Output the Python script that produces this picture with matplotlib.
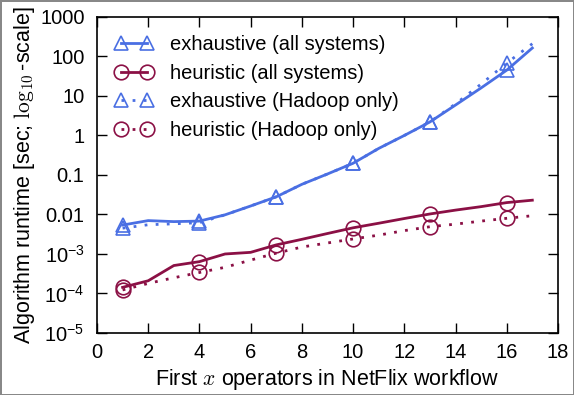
import numpy as np
import matplotlib.pyplot as plt

plt.rcParams['font.family'] = ['Liberation Sans', 'DejaVu Sans']
plt.rcParams['mathtext.fontset'] = 'custom'
plt.rcParams['mathtext.rm'] = 'Liberation Sans'
plt.rcParams['mathtext.it'] = 'Liberation Sans:italic'

x = np.arange(1, 18)
marker_x = [1, 4, 7, 10, 13, 16]

exh_all = [0.0054, 0.0070, 0.0066, 0.0068, 0.0098, 0.0164, 0.028, 0.058, 0.106,
           0.198, 0.47, 1.0, 2.2, 5.9, 16.0, 45.0, 164.0]
heu_all = [1.43e-4, 2.1e-4, 5.1e-4, 6.4e-4, 1.0e-3, 1.1e-3, 1.7e-3, 2.35e-3, 3.3e-3,
           4.6e-3, 6.0e-3, 7.9e-3, 1.03e-2, 1.29e-2, 1.58e-2, 2.0e-2, 2.3e-2]
exh_hadoop = [0.0045, 0.0055, 0.0058, 0.0062, 0.0098, 0.0164, 0.028, 0.058, 0.106,
              0.198, 0.47, 1.0, 2.2, 6.3, 20.0, 68.0, 210.0]
heu_hadoop = [1.23e-4, 1.8e-4, 2.5e-4, 3.4e-4, 4.6e-4, 7.0e-4, 1.05e-3, 1.5e-3, 1.9e-3,
              2.4e-3, 3.0e-3, 3.9e-3, 4.9e-3, 5.7e-3, 6.8e-3, 8.0e-3, 9.3e-3]

ytick_vals = [1e-5, 1e-4, 1e-3, 0.01, 0.1, 1, 10, 100, 1000]
ytick_text = [r'$10^{-5}$', r'$10^{-4}$', r'$10^{-3}$', '0.01', '0.1', '1', '10', '100', '1000']

blue = '#4a6fe3'
red = '#8b1045'

def markers_of(values):
    return [values[i - 1] for i in marker_x]

fig = plt.figure(figsize=(5.74, 3.95), dpi=100)
fig.patch.set_edgecolor('#888888')
fig.patch.set_linewidth(2)
ax = fig.add_axes([0.169, 0.157, 0.803, 0.8])

series = [
    (exh_all, blue, '-', '^', 'exhaustive (all systems)'),
    (heu_all, red, '-', 'o', 'heuristic (all systems)'),
    (exh_hadoop, blue, (0, (1, 3)), '^', 'exhaustive (Hadoop only)'),
    (heu_hadoop, red, (0, (1, 3)), 'o', 'heuristic (Hadoop only)'),
]

handles = []
for vals, col, ls, mk, lab in series:
    ax.plot(x, vals, color=col, linestyle=ls, linewidth=2)
    ax.plot(marker_x, markers_of(vals), linestyle='none', marker=mk, markersize=10.5,
            markerfacecolor='none', markeredgecolor=col, markeredgewidth=1.2)
    h, = ax.plot([], [], color=col, linestyle=ls, linewidth=2, marker=mk, markersize=10.5,
                 markerfacecolor='none', markeredgecolor=col, markeredgewidth=1.2, label=lab)
    handles.append(h)

ax.set_yscale('log')
ax.set_xlim(0, 18)
ax.set_ylim(1e-5, 1000)
ax.set_xticks(range(0, 19, 2))
ax.set_yticks(ytick_vals)
ax.set_yticklabels(ytick_text)
ax.tick_params(which='both', direction='in', top=True, right=True, labelsize=14.5)
ax.tick_params(which='major', length=7, width=1)
ax.tick_params(which='minor', length=4, width=1)
ax.tick_params(axis='y', pad=9)
ax.tick_params(axis='x', pad=7)
for s in ax.spines.values():
    s.set_linewidth(1.2)

ax.set_xlabel('First $x$ operators in NetFlix workflow', fontsize=15.5,
              math_fontfamily='cm', labelpad=4)
ax.set_ylabel(r'Algorithm runtime [sec; $\log_{10}$-scale]', fontsize=15.5,
              math_fontfamily='cm', labelpad=2)

ax.legend(handles=handles, loc='upper left', frameon=False, fontsize=14.5,
          numpoints=2, handlelength=1.9, handletextpad=0.8, labelspacing=0.48,
          borderaxespad=0.5, borderpad=0.4)

fig.savefig('out.png', dpi=100)
